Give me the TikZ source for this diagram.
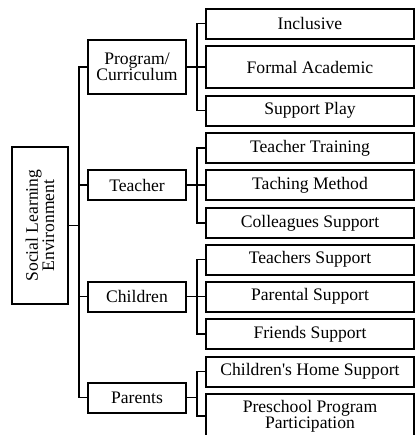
\documentclass[tikz,border=0pt]{standalone}
\usepackage{fontspec}
\setmainfont{Liberation Serif}
\begin{document}
\begin{tikzpicture}[x=0.5pt, y=-0.5pt,
        box/.style={draw, rectangle, line width=1pt, inner sep=1pt, align=center,
            font=\fontsize{8.8}{8.2}\selectfont},
        topbox/.style={box, minimum width=49pt, minimum height=15pt},
        leafbox/.style={box, minimum width=104pt, minimum height=15pt},
        link/.style={line width=0.8pt}]
    \clip (0,0) rectangle (416,435);

    \node[box, rotate=90, minimum width=78.5pt, minimum height=28pt] (root) at (40,225.5) {Social Learning\\Environment};

    \node[topbox, minimum height=27pt] (program) at (137,67) {Program/\\Curriculum};
    \node[topbox] (teacher) at (137,185) {Teacher};
    \node[topbox] (children) at (137,296.5) {Children};
    \node[topbox] (parents) at (137,397.5) {Parents};

    \node[leafbox] (inclusive) at (310,23.5) {Inclusive};
    \node[leafbox, minimum height=21pt] (formal) at (310,67) {Formal Academic};
    \node[leafbox] (play) at (310,110.5) {Support Play};
    \node[leafbox] (training) at (310,148) {Teacher Training};
    \node[leafbox] (method) at (310,185) {Taching Method};
    \node[leafbox] (colleagues) at (310,223) {Colleagues Support};
    \node[leafbox] (teachsup) at (310,259.5) {Teachers Support};
    \node[leafbox] (parental) at (310,296.5) {Parental Support};
    \node[leafbox] (friends) at (310,334) {Friends Support};
    \node[leafbox] (home) at (310,371.5) {Children\textquotesingle s Home Support};
    \node[leafbox, minimum height=22pt] (preschool) at (310,416) {Preschool Program\\Participation};

    % trunk
    \foreach \top in {program, teacher, children, parents}
        \draw[link] (root.south) -- ++(10,0) |- (\top.west);

    % branches
    \foreach \leaf in {inclusive, formal, play}
        \draw[link] (program.east) -- ++(10,0) |- (\leaf.west);
    \foreach \leaf in {training, method, colleagues}
        \draw[link] (teacher.east) -- ++(10,0) |- (\leaf.west);
    \foreach \leaf in {teachsup, parental, friends}
        \draw[link] (children.east) -- ++(10,0) |- (\leaf.west);
    \foreach \leaf in {home, preschool}
        \draw[link] (parents.east) -- ++(10,0) |- (\leaf.west);
\end{tikzpicture}
\end{document}
